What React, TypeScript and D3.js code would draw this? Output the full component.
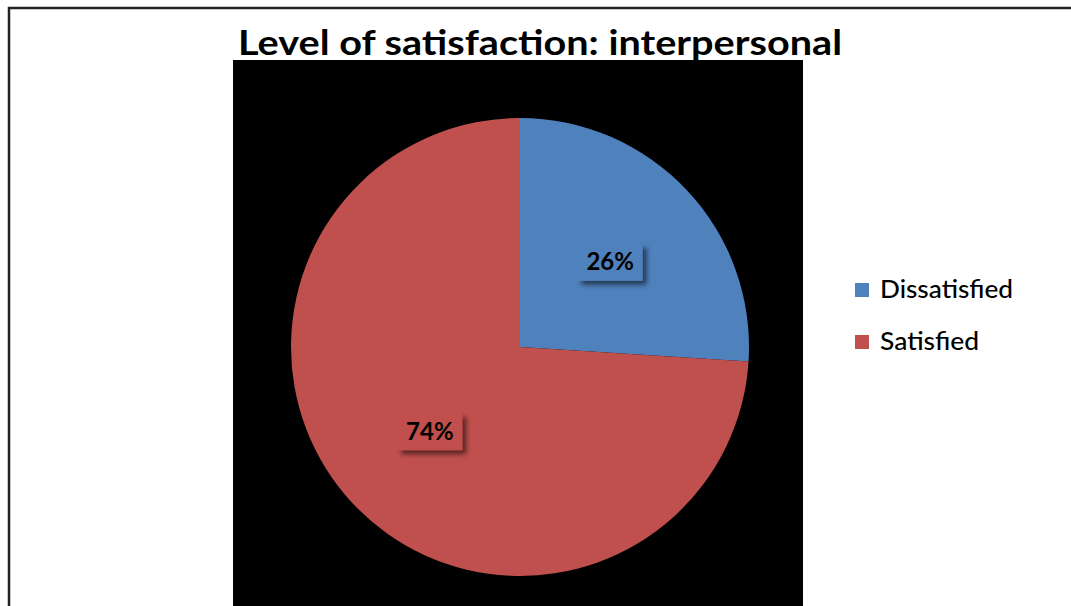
import React from "react";
import * as d3 from "d3";

const categories = ["Dissatisfied", "Satisfied"];
const values = [26, 74];
const labels = ["26%", "74%"];
const colors = ["#4F81BD", "#C0504D"];
const title = "Level of satisfaction: interpersonal";
const legendWidths = [133, 99];

export default function App() {
  const W = 1071, H = 606;
  const cx = 520, cy = 347, r = 229;
  const pie = d3.pie<number>().sort(null).value((d) => d)(values);
  const arc = d3.arc<d3.PieArcDatum<number>>().innerRadius(0).outerRadius(r);
  const labelArc = d3.arc<d3.PieArcDatum<number>>().innerRadius(r * 0.54).outerRadius(r * 0.54);
  const font = "Lato, 'Open Sans', sans-serif";
  return (
    <svg width={W} height={H} style={{ position: "absolute", left: 0, top: 0, background: "#fff" }}>
      <defs>
        <filter id="sh" x="-30%" y="-30%" width="160%" height="180%">
          <feGaussianBlur in="SourceAlpha" stdDeviation="2.5" />
          <feOffset dx="4" dy="4" result="b" />
          <feComponentTransfer><feFuncA type="linear" slope="0.55" /></feComponentTransfer>
          <feMerge><feMergeNode /><feMergeNode in="SourceGraphic" /></feMerge>
        </filter>
      </defs>
      <rect x={9} y={8} width={W + 10} height={H + 10} fill="#fff" stroke="#222" strokeWidth={2.5} />
      <rect x={233} y={60} width={570} height={H - 60} fill="#000" />
      <text x={540} y={55} textAnchor="middle" fontFamily={font} fontWeight="bold" fontSize={34}
        textLength={604} lengthAdjust="spacingAndGlyphs" fill="#000">{title}</text>
      <g transform={`translate(${cx},${cy})`}>
        {pie.map((p, i) => (
          <path key={i} d={arc(p) || ""} fill={colors[i]} />
        ))}
        {pie.map((p, i) => {
          const [lx, ly] = labelArc.centroid(p);
          const bw = 65, bh = 37;
          return (
            <g key={"l" + i} transform={`translate(${lx},${ly})`}>
              <rect x={-bw / 2} y={-bh / 2} width={bw} height={bh} fill={colors[i]} filter="url(#sh)" />
              <text x={0} y={8} textAnchor="middle" fontFamily={font} fontWeight="bold" fontSize={24} fill="#000">{labels[i]}</text>
            </g>
          );
        })}
      </g>
      {categories.map((c, i) => (
        <g key={c} transform={`translate(855,${290 + i * 52})`}>
          <rect x={0} y={-7} width={14} height={14} fill={colors[i]} />
          <text x={25} y={8} fontFamily={font} fontSize={24} fontWeight={500} fill="#000"
            textLength={legendWidths[i]} lengthAdjust="spacingAndGlyphs">{c}</text>
        </g>
      ))}
    </svg>
  );
}
